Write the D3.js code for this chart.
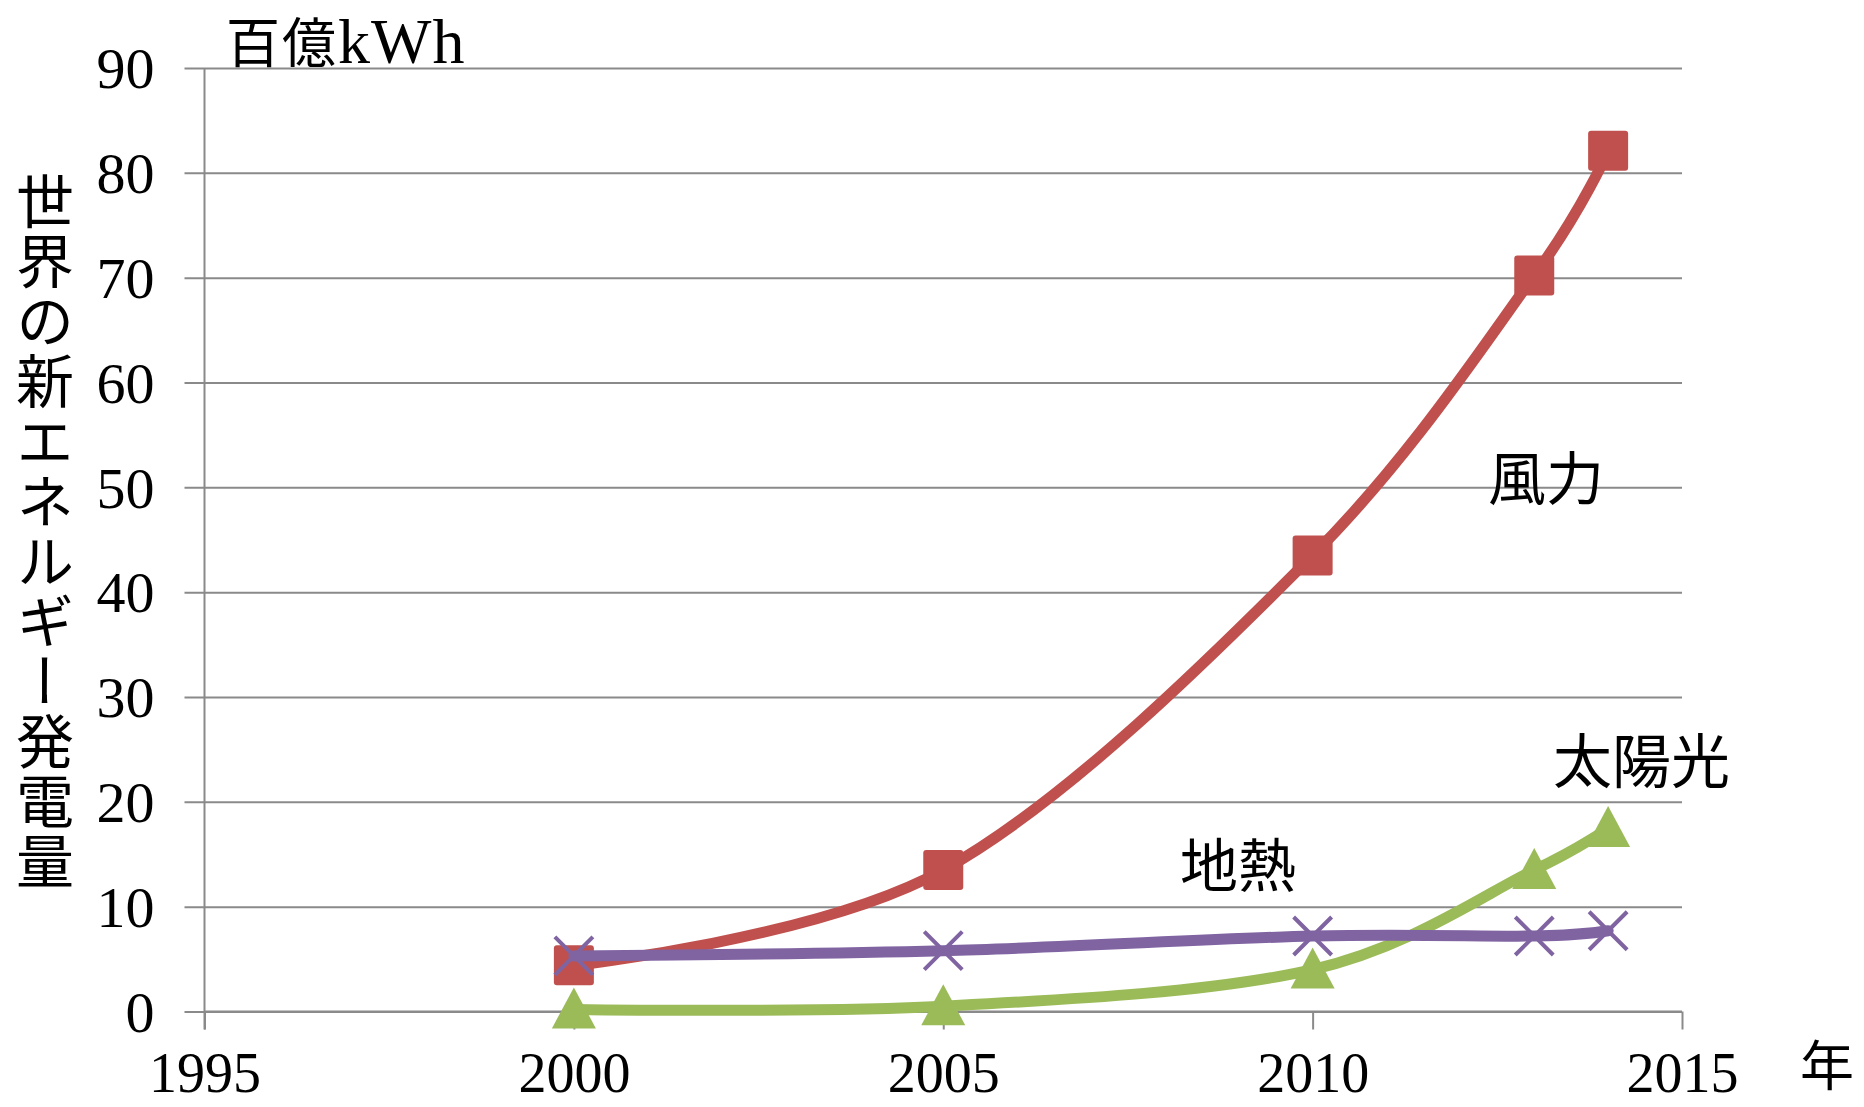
<!DOCTYPE html>
<html>
<head>
<meta charset="utf-8">
<script src="https://cdn.jsdelivr.net/npm/d3@7"></script>
<style>
  html, body { margin: 0; padding: 0; background: #fff; }
  svg { display: block; }
</style>
</head>
<body>
<svg id="chart" width="1864" height="1107"></svg>
<script>
// ---- data ----
const years = [2000, 2005, 2010, 2013, 2014];
const windValues = [4.4, 13.5, 43.5, 70.2, 82.1];
const solarValues = [0.2, 0.5, 4.0, 13.5, 17.5];
const geoValues = [5.3, 5.8, 7.2, 7.2, 7.7];
const yTicks = [0, 10, 20, 30, 40, 50, 60, 70, 80, 90];
const xTicks = [1995, 2000, 2005, 2010, 2015];
const seriesNames = ["風力", "太陽光", "地熱"];
const yAxisTitle = "世界の新エネルギー発電量";
const unitLabel = "百億kWh";
const xUnitLabel = "年";

(function () {
// ---- layout ----
const svg = d3.select("#chart");
const pLeft = 204.5, pRight = 1682, pTop = 68, pBottom = 1011.5;
const x = d3.scaleLinear().domain([1995, 2015]).range([pLeft, pRight]);
const y = d3.scaleLinear().domain([0, 90]).range([pBottom, pTop]);

const gridColor = "#8a8a8a";
const serif = "'Liberation Serif', 'DejaVu Serif', serif";
const jp = "'Noto Sans CJK JP', 'Noto Sans CJK SC', sans-serif";

// gridlines + y axis
const yAxis = d3.axisLeft(y).tickValues(yTicks).tickSize(20).tickPadding(30)
  .tickFormat(d3.format("d"));
const gy = svg.append("g").attr("transform", `translate(${pLeft},0)`).call(yAxis);
gy.select(".domain").remove();
gy.selectAll(".tick line").attr("stroke", gridColor).attr("stroke-width", 2)
  .attr("x2", -20).attr("x1", pRight - pLeft);
gy.selectAll(".tick text").attr("font-family", serif).attr("font-size", 58)
  .attr("fill", "#000").attr("dy", "0.34em");
svg.append("line").attr("x1", pLeft).attr("x2", pLeft).attr("y1", pTop).attr("y2", pBottom + 18)
  .attr("stroke", gridColor).attr("stroke-width", 2);

// x axis
const xAxis = d3.axisBottom(x).tickValues(xTicks).tickSize(18).tickPadding(24)
  .tickFormat(d3.format("d"));
const gx = svg.append("g").attr("transform", `translate(0,${pBottom})`).call(xAxis);
gx.select(".domain").attr("stroke", gridColor).attr("stroke-width", 2).attr("d", `M${pLeft},0H${pRight}`);
gx.selectAll(".tick line").attr("stroke", gridColor).attr("stroke-width", 2);
gx.selectAll(".tick text").attr("font-family", serif).attr("font-size", 56).attr("fill", "#000")
  .attr("dy", "0.68em");

// ---- series ----
const line = d3.line().x(d => x(d[0])).y(d => y(d[1])).curve(d3.curveCardinal.tension(0));
const series = [
  { name: seriesNames[0], values: windValues, color: "#C0504D", marker: "square" },
  { name: seriesNames[1], values: solarValues, color: "#9BBB59", marker: "triangle" },
  { name: seriesNames[2], values: geoValues, color: "#8064A2", marker: "x" }
];

series.forEach(s => {
  const pts = years.map((yr, i) => [yr, s.values[i]]);
  const g = svg.append("g");
  g.append("path").attr("d", line(pts)).attr("fill", "none")
    .attr("stroke", s.color).attr("stroke-width", 11).attr("stroke-linecap", "round");
  pts.forEach(p => {
    const cx = x(p[0]), cy = y(p[1]);
    if (s.marker === "square") {
      g.append("rect").attr("x", cx - 20).attr("y", cy - 20).attr("width", 40).attr("height", 40)
        .attr("rx", 3).attr("fill", s.color);
    } else if (s.marker === "triangle") {
      g.append("path").attr("d", `M${cx},${cy - 22}L${cx + 22},${cy + 19}L${cx - 22},${cy + 19}Z`)
        .attr("fill", s.color);
    } else {
      g.append("path").attr("d", `M${cx - 19},${cy - 19}L${cx + 19},${cy + 19}M${cx + 19},${cy - 19}L${cx - 19},${cy + 19}`)
        .attr("stroke", s.color).attr("stroke-width", 4).attr("fill", "none");
    }
  });
});

// ---- labels ----
svg.append("text").attr("x", 226).attr("y", 63).attr("font-size", 54).attr("fill", "#000")
  .attr("font-family", jp).attr("letter-spacing", 2).text(unitLabel.slice(0, 2))
  .append("tspan").attr("font-family", serif).attr("font-size", 64).attr("letter-spacing", 1)
  .text(unitLabel.slice(2));

svg.append("text").attr("x", 45).attr("y", 172)
  .attr("font-family", jp).attr("font-size", 58).attr("fill", "#000")
  .attr("letter-spacing", 2)
  .style("writing-mode", "vertical-rl")
  .text(yAxisTitle);

svg.append("text").attr("x", 1488).attr("y", 500).attr("font-family", jp).attr("font-size", 58)
  .attr("fill", "#000").text(seriesNames[0]);
svg.append("text").attr("x", 1553).attr("y", 783).attr("font-family", jp).attr("font-size", 59)
  .attr("fill", "#000").text(seriesNames[1]);
svg.append("text").attr("x", 1180).attr("y", 887).attr("font-family", jp).attr("font-size", 58)
  .attr("fill", "#000").text(seriesNames[2]);
svg.append("text").attr("x", 1800).attr("y", 1086).attr("font-family", jp).attr("font-size", 54)
  .attr("fill", "#000").text(xUnitLabel);
})();
</script>
</body>
</html>
